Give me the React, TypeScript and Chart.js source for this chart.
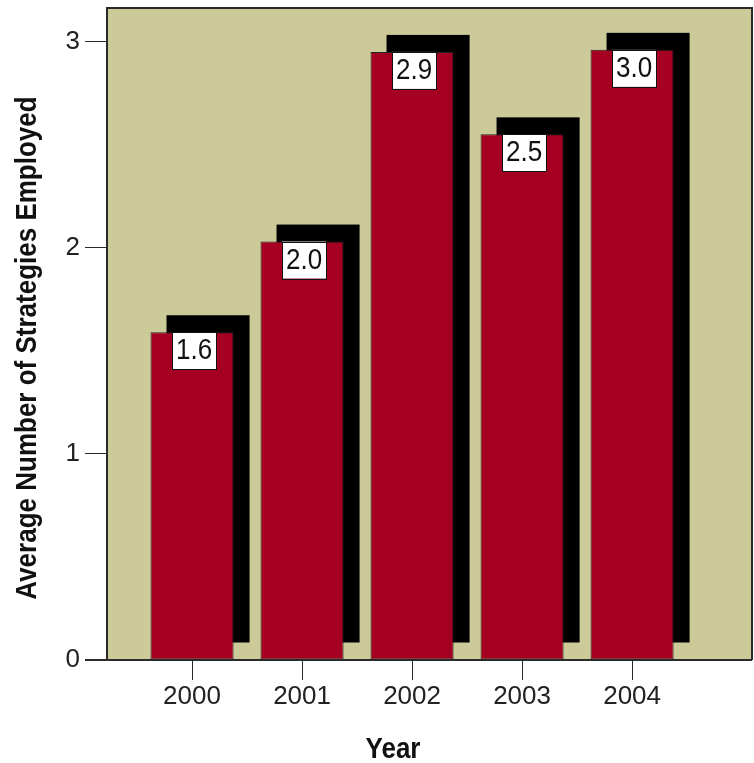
import React, { useEffect, useRef } from "react";
import { Chart, registerables } from "chart.js";
Chart.register(...registerables);

const years = ["2000", "2001", "2002", "2003", "2004"];
const averages = [1.59, 2.03, 2.95, 2.55, 2.96];
const valueLabels = ["1.6", "2.0", "2.9", "2.5", "3.0"];
const yTickValues = [0, 1, 2, 3];
const xTitle = "Year";
const yTitle = "Average Number of Strategies Employed";

const FONT = '"Liberation Sans", Arial, sans-serif';
const TAN = "#CCCA99";
const RED = "#A50021";
const LINE = "#2a2a2a";

const framePlugin = {
  id: "frame",
  beforeDraw(chart: any) {
    const { ctx, chartArea: a } = chart;
    ctx.save();
    ctx.fillStyle = TAN;
    ctx.fillRect(a.left, a.top, a.right - a.left, a.bottom - a.top);
    ctx.restore();
  },
  beforeDatasetsDraw(chart: any) {
    const { ctx } = chart;
    const meta = chart.getDatasetMeta(0);
    ctx.save();
    ctx.fillStyle = "#000";
    meta.data.forEach((el: any) => {
      const { x, y, base, width } = el.getProps(["x", "y", "base", "width"], true);
      ctx.fillRect(x - width / 2 + 16, y - 17, width, base - y);
    });
    ctx.restore();
  },
  afterDatasetsDraw(chart: any) {
    const { ctx, chartArea: a } = chart;
    const meta = chart.getDatasetMeta(0);
    ctx.save();
    ctx.strokeStyle = LINE;
    ctx.lineWidth = 2;
    ctx.beginPath();
    ctx.moveTo(a.left, a.bottom);
    ctx.lineTo(a.left, a.top);
    ctx.lineTo(a.right, a.top);
    ctx.lineTo(a.right, a.bottom);
    ctx.moveTo(a.left - 22, a.bottom);
    ctx.lineTo(a.right, a.bottom);
    ctx.stroke();
    ctx.restore();
    ctx.save();
    ctx.font = `26px ${FONT}`;
    meta.data.forEach((el: any, i: number) => {
      const { x, y } = el.getProps(["x", "y"], true);
      const txt = valueLabels[i];
      const w = ctx.measureText(txt).width + 8;
      const h = 37;
      const cx = x + 2;
      ctx.fillStyle = "#fff";
      ctx.fillRect(cx - w / 2, y, w, h);
      ctx.strokeStyle = "#111";
      ctx.lineWidth = 1;
      ctx.strokeRect(Math.round(cx - w / 2) + 0.5, Math.round(y) + 0.5, Math.round(w), h);
      ctx.save();
      ctx.translate(cx, y + 27);
      ctx.scale(1, 1.16);
      ctx.fillStyle = "#111";
      ctx.textAlign = "center";
      ctx.textBaseline = "alphabetic";
      ctx.fillText(txt, 0, 0);
      ctx.restore();
    });
    ctx.restore();
  },
  afterDraw(chart: any) {
    const { ctx } = chart;
    ctx.save();
    ctx.fillStyle = "#111";
    ctx.font = `bold 26px ${FONT}`;
    ctx.textAlign = "center";
    ctx.textBaseline = "alphabetic";
    ctx.save();
    ctx.translate(393, 758);
    ctx.scale(1, 1.16);
    ctx.fillText(xTitle, 0, 0);
    ctx.restore();
    ctx.save();
    ctx.translate(36, 348);
    ctx.rotate(-Math.PI / 2);
    ctx.scale(1, 1.16);
    ctx.fillText(yTitle, 0, 0);
    ctx.restore();
    ctx.restore();
  },
};

export default function App() {
  const ref = useRef<HTMLCanvasElement | null>(null);
  useEffect(() => {
    if (!ref.current) return;
    const chart = new Chart(ref.current, {
      type: "bar",
      data: {
        datasets: [
          {
            data: years.map((_, i) => ({ x: i, y: averages[i] })),
            backgroundColor: RED,
            borderColor: "#222",
            borderWidth: 1,
            borderSkipped: false,
            barPercentage: 0.755,
            categoryPercentage: 1,
          },
        ],
      },
      options: {
        animation: false,
        responsive: false,
        devicePixelRatio: 1,
        layout: { padding: { top: 8, right: 2, left: 0, bottom: 0 } },
        plugins: { legend: { display: false }, tooltip: { enabled: false } },
        scales: {
          x: {
            type: "linear",
            offset: false,
            min: -0.773,
            max: 5.09,
            afterBuildTicks: (s: any) => {
              s.ticks = years.map((_, i) => ({ value: i }));
            },
            afterFit: (s: any) => {
              s.height = 103;
              s.paddingLeft = 0;
              s.paddingRight = 0;
            },
            ticks: {
              callback: (v: any) => years[v] ?? "",
              font: { family: FONT, size: 26 },
              color: "#222",
              padding: 1,
              maxRotation: 0,
              autoSkip: false,
            },
            grid: { offset: false, drawOnChartArea: false, drawTicks: true, tickLength: 20, color: LINE },
            border: { display: false },
          },
          y: {
            min: 0,
            max: 3.163,
            afterBuildTicks: (s: any) => {
              s.ticks = yTickValues.map((v) => ({ value: v }));
            },
            afterFit: (s: any) => {
              s.width = 107;
              s.paddingTop = 0;
              s.paddingBottom = 0;
            },
            ticks: {
              font: { family: FONT, size: 26 },
              color: "#222",
              padding: 5,
            },
            grid: { drawOnChartArea: false, drawTicks: true, tickLength: 22, color: LINE },
            border: { display: false },
          },
        },
      },
      plugins: [framePlugin],
    });
    return () => chart.destroy();
  }, []);
  return (
    <div style={{ position: "fixed", left: 0, top: 0, width: 754, height: 763, background: "#fff" }}>
      <canvas ref={ref} width={754} height={763} style={{ width: 754, height: 763 }} />
    </div>
  );
}
